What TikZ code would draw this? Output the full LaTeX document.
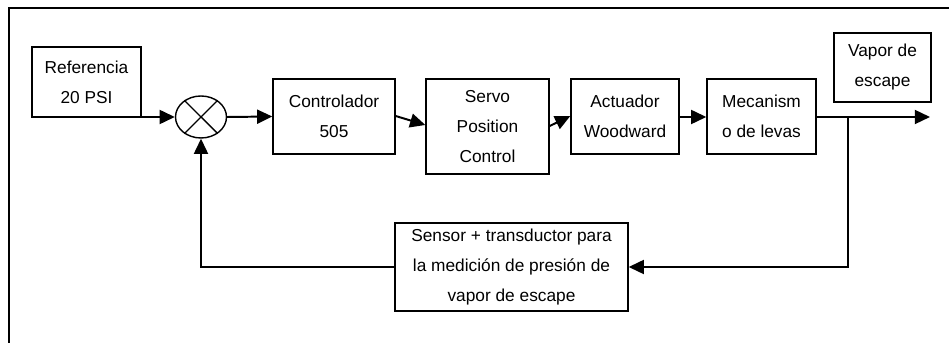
\documentclass[tikz,border=0pt]{standalone}
\usepackage{fontspec}
\setmainfont{Liberation Sans}
\usetikzlibrary{positioning, arrows.meta, shapes.geometric, calc}

\begin{document}
\begin{tikzpicture}[
    >={Triangle[length=3.8mm, width=3.5mm]},
    box/.style={draw, line width=1pt, align=center, fill=white, font=\fontsize{12.3}{21.3}\selectfont, inner sep=2pt},
    sumnode/.style={draw, ellipse, line width=1pt, minimum width=1.275cm, minimum height=1.05cm, inner sep=0pt},
    link/.style={->, line width=1.4pt}
]

\useasboundingbox (0,0) rectangle (23.725,8.575);

% ================= Frame =================
\draw[line width=0.9pt] (0.225,0) -- (0.225,8.375) -- (23.725,8.375);

% ================= Nodes =================

% Reference and summing junction
\node[box, minimum width=2.725cm, minimum height=1.75cm] (ref) at (2.1625, 6.525) {Referencia\\20 PSI};
\node[sumnode] (sum) at (5.025, 5.65) {};
\draw[line width=1pt] (sum.45) -- (sum.225);
\draw[line width=1pt] (sum.135) -- (sum.315);

% Forward path
\node[box, minimum width=3.05cm, minimum height=1.875cm] (ctrl) at (8.35, 5.6625) {Controlador\\505};
\node[box, minimum width=3.075cm, minimum height=2.375cm] (servo) at (12.1875, 5.4125) {Servo\\Position\\Control};
\node[box, minimum width=2.7cm, minimum height=1.875cm] (act) at (15.625, 5.6625) {Actuador\\Woodward};
\node[box, minimum width=2.725cm, minimum height=1.875cm] (mec) at (19.0375, 5.6625) {Mecanism\\o de levas};

% Output
\node[box, minimum width=2.425cm, minimum height=1.725cm] (vapor) at (22.0625, 6.8875) {Vapor de\\escape};

% Feedback sensor
\node[box, minimum width=5.825cm, minimum height=2.2cm] (sensor) at (12.7875, 1.9) {Sensor + transductor para\\la medición de presión de\\vapor de escape};

% Free ends and branch point
\coordinate (refout) at (2.175, 5.65);
\coordinate (out) at (23.25, 5.65);
\coordinate (branch) at (21.2, 5.65);

% ================= Edges =================

\draw[link] (refout) -- (sum.west);
\draw[link] (sum.east) -- (ctrl.west);
\draw[link] ($(ctrl.east)+(0,0.0125)$) -- ($(servo.west)+(0,0.0375)$);
\draw[link] ($(servo.east)+(0,0.0125)$) -- ($(act.west)+(0,0.0125)$);
\draw[link] ($(act.east)+(0,-0.0125)$) -- ($(mec.west)+(0,-0.0125)$);
\draw[link] ($(mec.east)+(0,-0.0125)$) -- (out);

% Feedback loop
\draw[link] (branch) |- (sensor.east);
\draw[link] (sensor.west) -| (sum.south);

\end{tikzpicture}
\end{document}
